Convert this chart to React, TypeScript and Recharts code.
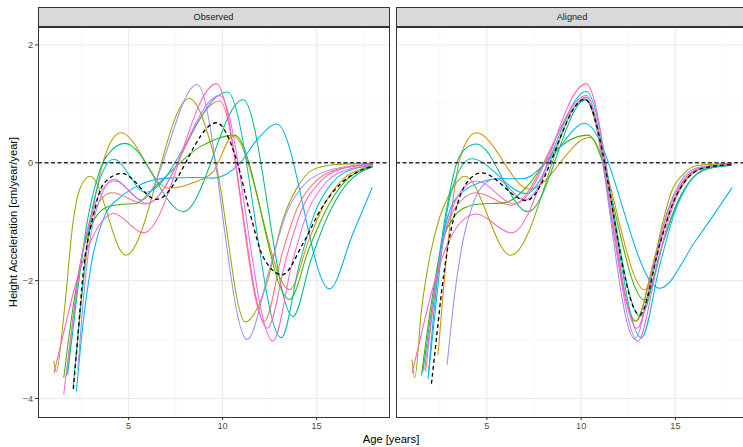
import { CartesianGrid, Line, LineChart, ReferenceLine, XAxis, YAxis } from "recharts";

type Pt = [number, number];

const ageTicks = [5, 10, 15];
const ageMinor = [2.5, 7.5, 12.5, 17.5];
const accelTicks = [-4, -2, 0, 2];
const accelMinor = [-3, -1, 1];
const ageDomain: [number, number] = [0.18, 18.85];
const accelDomain: [number, number] = [-4.315, 2.305];

const curveColors = [
  "#F8766D",
  "#D89000",
  "#A3A500",
  "#39B600",
  "#00BF7D",
  "#00BFC4",
  "#00B0F6",
  "#9590FF",
  "#E76BF3",
  "#FF62BC",
];

// observed curves [age, acceleration]
const obsSalmon: Pt[] = [[1.7, -3.62], [2.1, -2.5], [2.6, -1.45], [3.2, -0.8], [4.11, -0.51], [5.9, -0.7], [9.85, 1.05], [12.22, -2.69], [13.2, -1.5], [14.0, -0.75], [15.0, -0.3], [16.5, -0.08], [18, -0.03]];
const obsOrange: Pt[] = [[2.2, -3.3], [2.5, -2.3], [2.9, -1.2], [3.4, -0.3], [3.9, 0.25], [4.58, 0.51], [7.11, -0.43], [8.5, -0.33], [9.5, -0.15], [10.56, 0.45], [13.56, -2.15], [14.6, -1.3], [15.5, -0.65], [16.5, -0.25], [17.5, -0.09], [18, -0.05]];
const obsOlive: Pt[] = [[1.02, -3.36], [1.15, -3.55], [1.55, -2.6], [2.06, -0.97], [2.4, -0.45], [2.95, -0.23], [4.85, -1.57], [8.22, 1.09], [9.6, 0.05], [11.2, -2.7], [12.3, -2.1], [13.2, -0.97], [14.0, -0.4], [14.8, -0.12], [16.0, -0.03], [18, -0.01]];
const obsGreen: Pt[] = [[1.55, -3.65], [2.0, -2.55], [2.6, -1.45], [3.2, -0.95], [3.8, -0.76], [4.5, -0.71], [5.4, -0.69], [6.49, -0.38], [8.79, 0.27], [10.64, 0.47], [13.56, -2.32], [14.6, -1.45], [15.5, -0.8], [16.5, -0.32], [17.5, -0.11], [18, -0.06]];
const obsTeal: Pt[] = [[1.75, -3.6], [2.2, -2.4], [2.8, -1.0], [3.3, -0.3], [3.8, 0.1], [4.81, 0.33], [7.91, -0.83], [11.09, 1.07], [13.74, -2.61], [14.7, -1.65], [15.6, -0.9], [16.5, -0.4], [17.5, -0.13], [18, -0.07]];
const obsCyan: Pt[] = [[2.05, -3.8], [2.4, -2.6], [2.9, -1.1], [3.4, -0.35], [4.2, 0.06], [5.9, -0.5], [10.26, 1.2], [13.12, -2.97], [14.1, -1.7], [14.9, -0.85], [15.8, -0.35], [17, -0.1], [18, -0.05]];
const obsBlue: Pt[] = [[2.22, -3.88], [2.5, -2.95], [3.0, -1.75], [3.75, -0.88], [4.5, -0.6], [5.26, -0.43], [7.02, -0.26], [8.5, -0.25], [9.5, -0.26], [10.91, -0.01], [11.81, 0.38], [12.89, 0.66], [15.68, -2.14], [16.93, -1.2], [17.96, -0.42]];
const obsLavender: Pt[] = [[2.3, -3.5], [2.6, -2.3], [3.0, -1.2], [3.5, -0.6], [4.2, -0.28], [5.7, -0.63], [8.65, 1.33], [11.3, -3.0], [12.5, -1.8], [13.4, -0.85], [14.2, -0.42], [15.2, -0.18], [16.9, -0.05], [18, -0.03]];
const obsViolet: Pt[] = [[1.55, -3.93], [2.0, -2.75], [2.5, -1.6], [3.1, -0.8], [3.6, -0.45], [4.25, -0.31], [5.98, -0.69], [9.85, 1.14], [12.68, -3.03], [13.7, -1.7], [14.5, -0.85], [15.5, -0.33], [16.8, -0.1], [18, -0.04]];
const obsPink: Pt[] = [[1.03, -3.57], [1.62, -2.78], [2.15, -2.1], [2.85, -1.43], [3.5, -1.03], [4.2, -0.86], [5.79, -1.19], [9.67, 1.34], [12.38, -2.81], [13.4, -1.6], [14.2, -0.8], [15.2, -0.32], [16.5, -0.09], [18, -0.03]];
const obsMean: Pt[] = [[2.06, -3.84], [2.27, -3.06], [2.62, -1.76], [3.07, -0.97], [3.68, -0.35], [4.64, -0.18], [6.49, -0.62], [9.67, 0.68], [10.75, 0.04], [11.46, -0.86], [12.16, -1.6], [13.17, -1.9], [14.28, -1.37], [15.3, -0.75], [16.3, -0.35], [17.2, -0.15], [17.96, -0.06]];

// aligned curves [age, acceleration]
const alnSalmon: Pt[] = [[1.75, -3.55], [2.15, -2.45], [2.65, -1.4], [3.25, -0.8], [4.44, -0.51], [6.3, -0.72], [10.24, 1.06], [12.87, -2.69], [13.9, -1.6], [14.6, -0.82], [15.3, -0.35], [16.2, -0.1], [18, -0.02]];
const alnOrange: Pt[] = [[2.41, -3.26], [2.68, -2.2], [3.03, -1.09], [3.47, -0.07], [3.9, 0.35], [4.44, 0.51], [7.27, -0.45], [10.45, 0.43], [13.37, -2.16], [14.3, -1.2], [15.0, -0.6], [15.7, -0.25], [16.6, -0.08], [18, -0.03]];
const alnOlive: Pt[] = [[1.03, -3.34], [1.17, -3.65], [1.53, -2.5], [1.97, -1.6], [2.5, -0.92], [3.03, -0.52], [3.83, -0.23], [6.26, -1.57], [10.19, 1.09], [12.92, -2.69], [13.63, -2.0], [14.34, -1.0], [14.78, -0.5], [15.4, -0.2], [16.1, -0.05], [18, -0.01]];
const alnGreen: Pt[] = [[1.53, -3.61], [2.0, -2.5], [2.6, -1.4], [3.3, -0.9], [4.0, -0.74], [4.62, -0.7], [5.9, -0.68], [7.27, -0.35], [8.15, 0.04], [10.36, 0.47], [13.37, -2.33], [14.4, -1.3], [15.1, -0.68], [15.8, -0.3], [16.7, -0.1], [18, -0.04]];
const alnTeal: Pt[] = [[1.6, -3.55], [2.2, -2.2], [2.8, -0.9], [3.4, 0.0], [3.9, 0.25], [4.44, 0.32], [7.18, -0.83], [10.24, 1.07], [13.14, -2.61], [14.25, -1.45], [15.0, -0.75], [15.75, -0.32], [16.7, -0.1], [18, -0.04]];
const alnCyan: Pt[] = [[1.9, -3.6], [2.3, -2.4], [2.8, -1.0], [3.3, -0.3], [4.18, 0.07], [7.09, -0.52], [10.27, 1.21], [13.19, -2.97], [14.2, -1.7], [14.95, -0.85], [15.7, -0.35], [16.6, -0.1], [18, -0.03]];
const alnBlue: Pt[] = [[1.88, -3.67], [2.2, -2.5], [2.6, -1.4], [3.1, -0.75], [3.7, -0.5], [4.6, -0.34], [5.6, -0.27], [6.9, -0.27], [8.3, 0.05], [10.19, 0.67], [14.16, -2.13], [16.1, -1.31], [18.01, -0.42]];
const alnLavender: Pt[] = [[2.89, -3.43], [3.3, -2.21], [3.74, -1.31], [4.27, -0.69], [4.97, -0.33], [5.5, -0.27], [7.0, -0.63], [10.27, 1.11], [12.84, -2.99], [13.85, -1.75], [14.55, -0.85], [15.25, -0.33], [16.2, -0.08], [18, -0.02]];
const alnViolet: Pt[] = [[1.7, -3.51], [2.1, -2.5], [2.6, -1.45], [3.2, -0.75], [3.7, -0.45], [4.44, -0.31], [6.5, -0.7], [10.27, 1.14], [13.01, -3.03], [14.0, -1.8], [14.7, -0.9], [15.4, -0.36], [16.3, -0.1], [18, -0.02]];
const alnPink: Pt[] = [[1.03, -3.57], [1.62, -2.78], [2.15, -2.1], [2.85, -1.43], [3.56, -1.03], [4.44, -0.87], [6.3, -1.19], [10.27, 1.34], [12.96, -2.81], [13.9, -1.75], [14.6, -0.9], [15.3, -0.38], [16.2, -0.1], [18, -0.02]];
const alnMean: Pt[] = [[2.06, -3.75], [2.32, -3.0], [2.59, -2.21], [2.85, -1.59], [3.3, -0.86], [3.91, -0.35], [4.71, -0.17], [7.09, -0.64], [10.19, 1.08], [13.1, -2.58], [14.2, -1.35], [14.9, -0.66], [15.6, -0.28], [16.5, -0.09], [18, -0.03]];

const observedCurves = [obsSalmon, obsOrange, obsOlive, obsGreen, obsTeal, obsCyan, obsBlue, obsLavender, obsViolet, obsPink];
const alignedCurves = [alnSalmon, alnOrange, alnOlive, alnGreen, alnTeal, alnCyan, alnBlue, alnLavender, alnViolet, alnPink];

const FONT = '"Liberation Sans", Arial, Helvetica, sans-serif';
const toPoints = (pts: Pt[]) => pts.map(([x, y]) => ({ x, y }));

function Facet({
  title,
  curves,
  mean,
  left,
  width,
  showY,
}: {
  title: string;
  curves: Pt[][];
  mean: Pt[];
  left: number;
  width: number;
  showY: boolean;
}) {
  const yAxisWidth = showY ? 38 : 0;
  const plotLeft = left + yAxisWidth;
  const plotWidth = width - yAxisWidth;
  return (
    <>
      <div style={{ position: "absolute", left, top: 0 }}>
        <LineChart width={width} height={447} margin={{ top: 27, right: 0, bottom: 0, left: 0 }}>
          <CartesianGrid
            horizontalValues={accelMinor}
            verticalValues={ageMinor}
            stroke="#F2F2F2"
            strokeWidth={0.6}
          />
          <CartesianGrid
            horizontalValues={accelTicks}
            verticalValues={ageTicks}
            stroke="#EBEBEB"
            strokeWidth={1.1}
          />
          <XAxis
            dataKey="x"
            type="number"
            domain={ageDomain}
            allowDataOverflow
            ticks={ageTicks}
            interval={0}
            height={30}
            axisLine={false}
            tickLine={{ stroke: "#333333" }}
            tickSize={3}
            tickMargin={2}
            tick={{ fontSize: 9.2, fill: "#4D4D4D", fontFamily: FONT }}
          />
          <YAxis
            type="number"
            domain={accelDomain}
            allowDataOverflow
            ticks={accelTicks}
            interval={0}
            width={yAxisWidth}
            hide={!showY}
            axisLine={false}
            tickLine={{ stroke: "#333333" }}
            tickSize={3}
            tickMargin={2}
            tick={{ fontSize: 9.2, fill: "#4D4D4D", fontFamily: FONT }}
            tickFormatter={(v) => String(v).replace("-", "\u2212")}
          />
          {curves.map((pts, i) => (
            <Line
              key={i}
              data={toPoints(pts)}
              dataKey="y"
              type="monotone"
              stroke={curveColors[i]}
              strokeWidth={1.05}
              dot={false}
              activeDot={false}
              isAnimationActive={false}
            />
          ))}
          <Line
            data={toPoints(mean)}
            dataKey="y"
            type="monotone"
            stroke="#000000"
            strokeWidth={1.3}
            strokeDasharray="4 3"
            dot={false}
            activeDot={false}
            isAnimationActive={false}
          />
          <ReferenceLine y={0} stroke="#333333" strokeWidth={1.5} strokeDasharray="4 2.5" />
        </LineChart>
      </div>
      <div
        style={{
          position: "absolute",
          left: plotLeft - 0.5,
          top: 7,
          width: plotWidth + 1,
          height: 20,
          boxSizing: "border-box",
          border: "1px solid #333333",
          background: "#D9D9D9",
          color: "#1A1A1A",
          fontFamily: FONT,
          fontSize: 9.2,
          lineHeight: "18px",
          textAlign: "center",
        }}
      >
        {title}
      </div>
      <div
        style={{
          position: "absolute",
          left: plotLeft - 0.5,
          top: 26.5,
          width: plotWidth + 1,
          height: 391,
          boxSizing: "border-box",
          border: "1px solid #333333",
          pointerEvents: "none",
        }}
      />
    </>
  );
}

export default function App() {
  return (
    <div
      style={{
        position: "absolute",
        left: 0,
        top: 0,
        width: 743,
        height: 447,
        overflow: "hidden",
        background: "#FFFFFF",
        fontFamily: FONT,
      }}
    >
      <Facet title="Observed" curves={observedCurves} mean={obsMean} left={0} width={389} showY />
      <Facet title="Aligned" curves={alignedCurves} mean={alnMean} left={396} width={352} showY={false} />
      <div
        style={{
          position: "absolute",
          left: 13,
          top: 222,
          transform: "translate(-50%, -50%) rotate(-90deg)",
          whiteSpace: "nowrap",
          fontSize: 11.2,
          color: "#000000",
        }}
      >
        Height Acceleration [cm/year/year]
      </div>
      <div
        style={{
          position: "absolute",
          left: 391,
          top: 439,
          transform: "translate(-50%, -50%)",
          whiteSpace: "nowrap",
          fontSize: 11.2,
          color: "#000000",
        }}
      >
        Age [years]
      </div>
    </div>
  );
}
